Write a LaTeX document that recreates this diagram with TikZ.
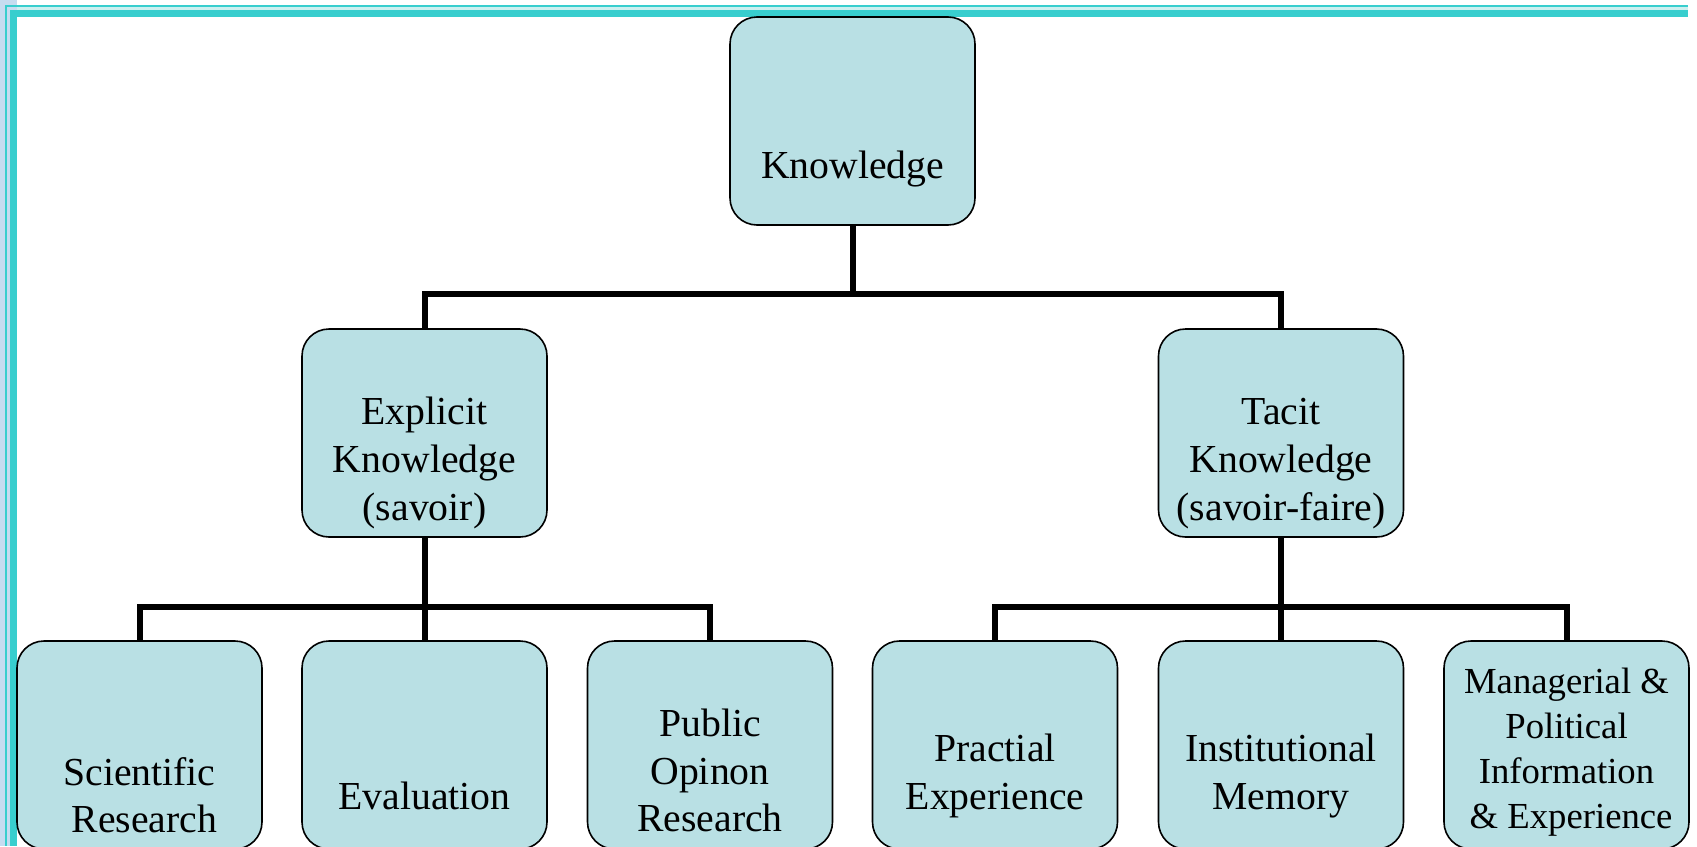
\documentclass[tikz,border=0pt]{standalone}
\usepackage{fontspec}
\setmainfont{Liberation Serif}
\definecolor{boxfill}{RGB}{185,224,228}
\definecolor{frameteal}{RGB}{56,206,206}
\definecolor{panelblue}{RGB}{198,220,240}
\definecolor{gapteal}{RGB}{205,240,240}
\begin{document}
\begin{tikzpicture}[x=1pt,y=-1pt,
  box/.style={draw=black,line width=1.6pt,fill=boxfill,rounded corners=27pt,minimum width=245pt,minimum height=208pt,inner sep=0pt},
  lbl/.style={align=center,inner sep=0pt,font=\fontsize{39.7}{47.6}\selectfont},
  lblsmall/.style={align=center,inner sep=0pt,font=\fontsize{36.7}{44.9}\selectfont},
  conn/.style={line width=6pt,draw=black}]
\useasboundingbox (0,0) rectangle (1697,846);
\clip (0,0) rectangle (1697,846);
% slide frame
\fill[panelblue] (0,0) rectangle (17,846);
\fill[gapteal] (17,7) rectangle (1688,10);
\fill[frameteal] (5,5) rectangle (1688,7);
\fill[frameteal] (5,5) rectangle (7,846);
\fill[frameteal] (10,10) rectangle (1688,17);
\fill[frameteal] (10,10) rectangle (17,846);
% boxes
\node[box] (K) at (852.5,121) {};
\node[box] (E) at (424.5,433) {};
\node[box] (T) at (1281,433) {};
\node[box] (B1) at (139.5,745) {};
\node[box] (B2) at (424.5,745) {};
\node[box] (B3) at (710,745) {};
\node[box] (B4) at (995,745) {};
\node[box] (B5) at (1281,745) {};
\node[box] (B6) at (1566.5,745) {};
% labels
\node[lbl] (Kt) at (852.5,168.5) {\strut Knowledge};
\node[lbl] (Et) at (424.5,462.9) {\strut Explicit\\\strut Knowledge\\\strut (savoir)};
\node[lbl] (Tt) at (1281,462.9) {\strut Tacit\\\strut Knowledge\\\strut (savoir-faire)};
\node[lbl] (B1t) at (139.5,799.5) {\strut Scientific\\\strut ~Research};
\node[lbl] (B2t) at (424.5,799.5) {\strut Evaluation};
\node[lbl] (B3t) at (710,774.6) {\strut Public\\\strut Opinon\\\strut Research};
\node[lbl] (B4t) at (995,775.7) {\strut Practial\\\strut Experience};
\node[lbl] (B5t) at (1281,775.7) {\strut Institutional\\\strut Memory};
\node[lblsmall] (B6t) at (1566.5,751.9) {\strut Managerial \&\\\strut Political\\\strut Information\\\strut ~\& Experience};
% connectors
\coordinate (jk) at (852.5,293.5);
\coordinate (je) at (424.5,606.5);
\coordinate (jt) at (1281,606.5);
\draw[conn] (K.south) -- (jk);
\draw[conn] (E.north) |- (jk) -| (T.north);
\draw[conn] (E.south) -- (je) -- (B2.north);
\draw[conn] (B1.north) |- (je) -| (B3.north);
\draw[conn] (T.south) -- (jt) -- (B5.north);
\draw[conn] (B4.north) |- (jt) -| (B6.north);
\end{tikzpicture}
\end{document}
